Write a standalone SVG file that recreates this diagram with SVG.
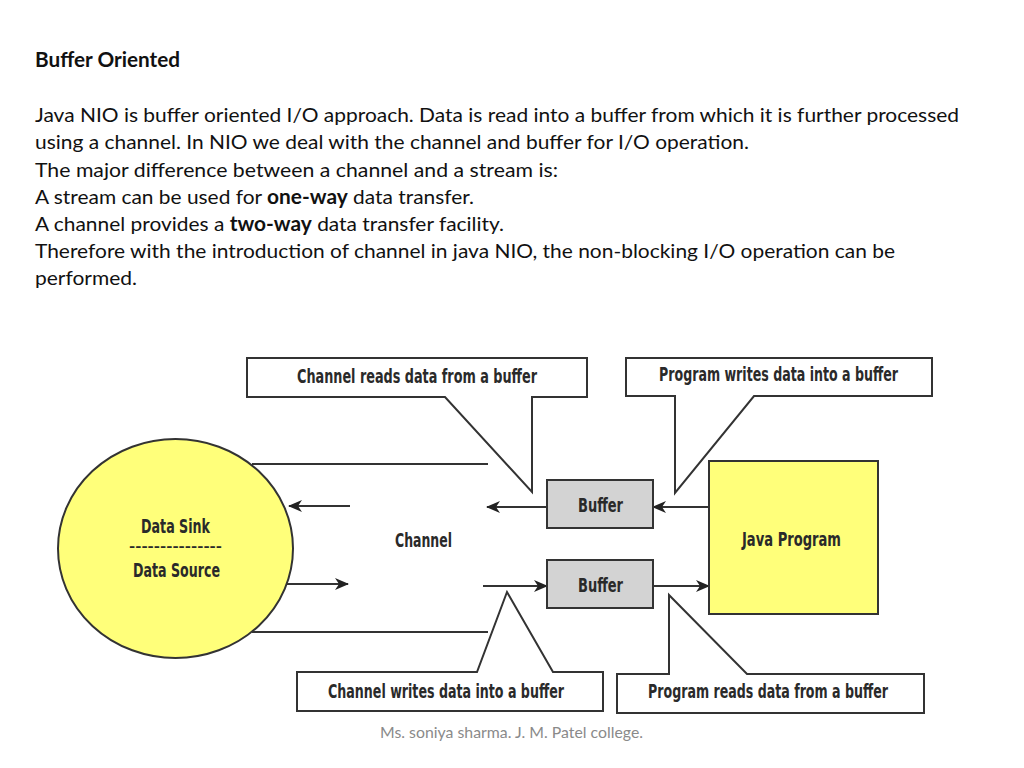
<svg xmlns="http://www.w3.org/2000/svg" width="1024" height="768" viewBox="0 0 1024 768">
<defs>
<style>
.body{font-family:Lato,"Open Sans","Liberation Sans",sans-serif;font-size:20px;fill:#111}
.b{font-weight:bold}
.lbl{font-family:"Liberation Sans Narrow","DejaVu Sans Condensed","Liberation Sans",sans-serif;font-size:20px;font-weight:bold;fill:#2a2a2a}
.dash{font-family:"Liberation Sans Narrow","DejaVu Sans Condensed","Liberation Sans",sans-serif;font-size:12px;font-weight:bold;fill:#2a2a2a}
.call{fill:#fff;stroke:#333;stroke-width:2;stroke-linejoin:miter}
.buf{fill:#d3d3d3;stroke:#333;stroke-width:2}
.yel{fill:#ffff7a;stroke:#333;stroke-width:2}
.ln{stroke:#333;stroke-width:2;fill:none}
.foot{font-family:Lato,"Open Sans","Liberation Sans",sans-serif;font-size:15px;fill:#8a8a8a}
</style>
<marker id="ah" markerUnits="userSpaceOnUse" markerWidth="14" markerHeight="12" refX="13" refY="6" orient="auto" viewBox="0 0 14 12">
<path d="M0,0 L14,6 L0,12 L4,6 z" fill="#222"/>
</marker>
</defs>
<rect width="1024" height="768" fill="#fff"/>

<g id="text">
<text class="body b" x="35" y="67" textLength="145" lengthAdjust="spacingAndGlyphs">Buffer Oriented</text>
<text class="body" x="35" y="122" textLength="924" lengthAdjust="spacingAndGlyphs">Java NIO is buffer oriented I/O approach. Data is read into a buffer from which it is further processed</text>
<text class="body" x="35" y="149" textLength="714" lengthAdjust="spacingAndGlyphs">using a channel. In NIO we deal with the channel and buffer for I/O operation.</text>
<text class="body" x="35" y="176.5" textLength="523" lengthAdjust="spacingAndGlyphs">The major difference between a channel and a stream is:</text>
<text class="body" x="35" y="204" textLength="439" lengthAdjust="spacingAndGlyphs">A stream can be used for <tspan class="b">one-way</tspan> data transfer.</text>
<text class="body" x="35" y="231" textLength="469" lengthAdjust="spacingAndGlyphs">A channel provides a <tspan class="b">two-way</tspan> data transfer facility.</text>
<text class="body" x="35" y="258" textLength="860" lengthAdjust="spacingAndGlyphs">Therefore with the introduction of channel in java NIO, the non-blocking I/O operation can be</text>
<text class="body" x="35" y="285" textLength="102" lengthAdjust="spacingAndGlyphs">performed.</text>
</g>

<g id="connectors">
<line class="ln" x1="252" y1="464" x2="488" y2="464"/>
<line class="ln" x1="252" y1="632" x2="488" y2="632"/>
<line class="ln" x1="350" y1="506" x2="289" y2="506" marker-end="url(#ah)"/>
<line class="ln" x1="547" y1="507" x2="487" y2="507" marker-end="url(#ah)"/>
<line class="ln" x1="709" y1="507" x2="653" y2="507" marker-end="url(#ah)"/>
<line class="ln" x1="287" y1="584" x2="348" y2="584" marker-end="url(#ah)"/>
<line class="ln" x1="483" y1="586" x2="547" y2="586" marker-end="url(#ah)"/>
<line class="ln" x1="653" y1="586" x2="709" y2="586" marker-end="url(#ah)"/>
</g>

<g id="datasink">
<ellipse class="yel" cx="175.5" cy="548.5" rx="117.5" ry="109.5"/>
<text class="lbl" x="141" y="533" textLength="69" lengthAdjust="spacingAndGlyphs">Data Sink</text>
<text class="dash" x="129" y="551" textLength="93" lengthAdjust="spacingAndGlyphs">---------------</text>
<text class="lbl" x="133" y="577" textLength="87" lengthAdjust="spacingAndGlyphs">Data Source</text>
</g>

<g id="channel">
<text class="lbl" x="395" y="547" textLength="57" lengthAdjust="spacingAndGlyphs">Channel</text>
</g>

<g id="buffer1">
<rect class="buf" x="547" y="480" width="106" height="48"/>
<text class="lbl" x="578" y="512" textLength="45" lengthAdjust="spacingAndGlyphs">Buffer</text>
</g>

<g id="buffer2">
<rect class="buf" x="547" y="560" width="106" height="48"/>
<text class="lbl" x="578" y="592" textLength="45" lengthAdjust="spacingAndGlyphs">Buffer</text>
</g>

<g id="javaprogram">
<rect class="yel" x="709" y="461" width="169" height="153"/>
<text class="lbl" x="742" y="546" textLength="99" lengthAdjust="spacingAndGlyphs">Java Program</text>
</g>

<g id="callout-channel-reads">
<path class="call" d="M247,358 L587,358 L587,397 L532,397 L532,492 L445,397 L247,397 Z"/>
<text class="lbl" x="297" y="383" textLength="240" lengthAdjust="spacingAndGlyphs">Channel reads data from a buffer</text>
</g>

<g id="callout-program-writes">
<path class="call" d="M626,358 L932,358 L932,396 L754,396 L675,493 L675,396 L626,396 Z"/>
<text class="lbl" x="659" y="381" textLength="239" lengthAdjust="spacingAndGlyphs">Program writes data into a buffer</text>
</g>

<g id="callout-channel-writes">
<path class="call" d="M297,672 L477,672 L507,592 L553,672 L603,672 L603,711 L297,711 Z"/>
<text class="lbl" x="328" y="698" textLength="236" lengthAdjust="spacingAndGlyphs">Channel writes data into a buffer</text>
</g>

<g id="callout-program-reads">
<path class="call" d="M617,674 L669,674 L669,595 L747,674 L924,674 L924,713 L617,713 Z"/>
<text class="lbl" x="648" y="698" textLength="240" lengthAdjust="spacingAndGlyphs">Program reads data from a buffer</text>
</g>

<g id="footer">
<text class="foot" x="380" y="738" textLength="263" lengthAdjust="spacingAndGlyphs">Ms. soniya sharma. J. M. Patel college.</text>
</g>
</svg>
